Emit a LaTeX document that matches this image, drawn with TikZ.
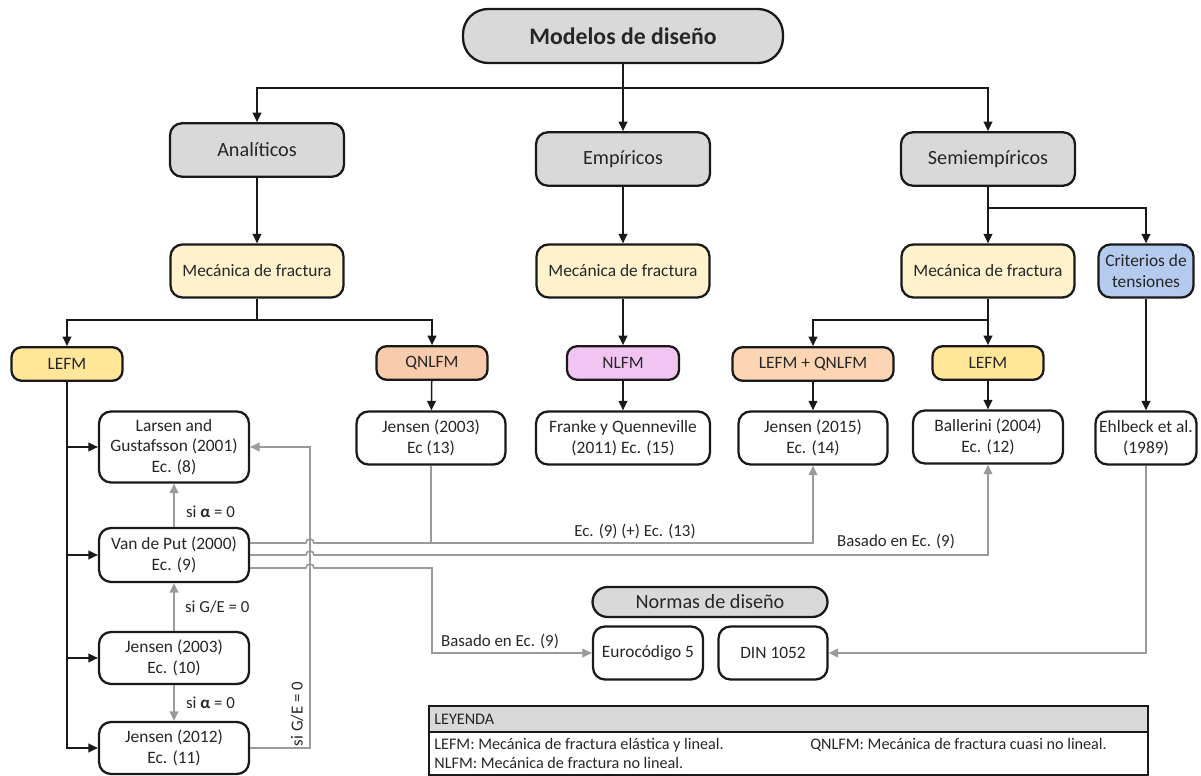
\documentclass[tikz,border=0pt]{standalone}
\usepackage{fontspec}
\setmainfont{Carlito}
\usetikzlibrary{arrows.meta}
\definecolor{boxgray}{HTML}{D9D9D9}
\definecolor{mecyellow}{HTML}{FFF2CC}
\definecolor{lefmyellow}{HTML}{FFE699}
\definecolor{qnlfmred}{HTML}{F8CBAD}
\definecolor{nlfmpink}{HTML}{F2C4F2}
\definecolor{mixorange}{HTML}{FCD5B4}
\definecolor{critblue}{HTML}{B4CBEF}
\definecolor{linkgray}{HTML}{9A9A9A}
\begin{document}
\begin{tikzpicture}[x=0.02cm,y=-0.02cm,
    box/.style={draw=black!90,line width=1.3pt,rounded corners=0.24cm,align=center,
      inner sep=0pt,text=black!85,font=\fontsize{9.9}{11.6}\selectfont},
    group/.style={box,fill=boxgray,minimum width=3.48cm,minimum height=1.07cm,
      font=\fontsize{11.5}{13}\selectfont},
    mec/.style={box,fill=mecyellow,minimum width=3.46cm,minimum height=1.06cm},
    tag/.style={box,rounded corners=0.2cm,minimum height=0.67cm},
    ref/.style={box,fill=white,minimum height=1.06cm},
    conn/.style={-{Triangle[length=5.4pt,width=5pt]},line width=0.85pt,black!90},
    bar/.style={line width=0.85pt,black!90},
    gconn/.style={-{Triangle[length=5.4pt,width=5pt]},line width=0.95pt,linkgray},
    gline/.style={line width=0.95pt,linkgray},
    glabel/.style={inner sep=1pt,text=black!85,font=\fontsize{9.6}{11}\selectfont},
    legtext/.style={anchor=west,inner sep=0pt,text=black!85,font=\fontsize{9.2}{11}\selectfont}]
  \useasboundingbox (0,0) rectangle (1201,776);

  % niveles
  \node[box,fill=boxgray,minimum width=6.4cm,minimum height=1.08cm,rounded corners=0.5cm,
    font=\bfseries\fontsize{13.5}{16}\selectfont] (modelos) at (623,36) {Modelos de diseño};
  \node[group] (anal) at (257,150) {Analíticos};
  \node[group] (emp) at (623,159) {Empíricos};
  \node[group] (semi) at (988,159) {Semiempíricos};
  \node[mec] (mecanal) at (257,271) {Mecánica de fractura};
  \node[mec] (mecemp) at (623,271) {Mecánica de fractura};
  \node[mec] (mecsemi) at (988,271) {Mecánica de fractura};
  \node[box,fill=critblue,minimum width=1.9cm,minimum height=1.06cm] (crit) at (1146,271) {Criterios de\\tensiones};
  \node[tag,fill=lefmyellow,minimum width=2.22cm] (lefmA) at (67,364) {LEFM};
  \node[tag,fill=qnlfmred,minimum width=2.22cm] (qnlfm) at (432,363) {QNLFM};
  \node[tag,fill=nlfmpink,minimum width=2.24cm] (nlfm) at (623,363) {NLFM};
  \node[tag,fill=mixorange,minimum width=3.22cm] (lefmqnlfm) at (813,364) {LEFM + QNLFM};
  \node[tag,fill=lefmyellow,minimum width=2.22cm] (lefmB) at (988,363) {LEFM};

  % modelos
  \node[ref,minimum width=3cm,minimum height=1.42cm] (larsen) at (174,447) {Larsen and\\Gustafsson (2001)\\Ec. (8)};
  \node[ref,minimum width=3cm,minimum height=1.08cm] (vandeput) at (174,555) {Van de Put (2000)\\Ec. (9)};
  \node[ref,minimum width=3cm,minimum height=1.04cm] (jensen03) at (174,658) {Jensen (2003)\\Ec. (10)};
  \node[ref,minimum width=3cm,minimum height=1.04cm] (jensen12) at (174,748) {Jensen (2012)\\Ec. (11)};
  \node[ref,minimum width=2.98cm] (jensen03q) at (431,438) {Jensen (2003)\\Ec (13)};
  \node[ref,minimum width=3.48cm] (franke) at (623,438) {Franke y Quenneville\\(2011) Ec. (15)};
  \node[ref,minimum width=2.98cm] (jensen15) at (813,438) {Jensen (2015)\\Ec. (14)};
  \node[ref,minimum width=3cm] (ballerini) at (988,437) {Ballerini (2004)\\Ec. (12)};
  \node[ref,minimum width=2.02cm] (ehlbeck) at (1146,438) {Ehlbeck et al.\\(1989)};

  % normas
  \node[box,fill=boxgray,minimum width=4.7cm,minimum height=0.6cm,rounded corners=0.3cm,
    font=\fontsize{11.5}{13}\selectfont] (normas) at (710,602) {Normas de diseño};
  \node[ref,minimum width=2.2cm] (euro) at (648,653) {Eurocódigo 5};
  \node[ref,minimum width=2.18cm] (din) at (773,653) {DIN 1052};

  % conectores negros
  \coordinate (topbus) at (623,88);
  \coordinate (semibus) at (988,208);
  \coordinate (analbus) at (257,320);
  \coordinate (semibus2) at (988,320);
  \draw[conn] (modelos) -- (emp);
  \draw[conn] (topbus) -| (anal);
  \draw[conn] (topbus) -| (semi);
  \draw[conn] (anal) -- (mecanal);
  \draw[conn] (emp) -- (mecemp);
  \draw[conn] (semi) -- (mecsemi);
  \draw[conn] (semibus) -| (crit);
  \draw[bar] (mecanal) -- (analbus);
  \draw[conn] (analbus) -| (lefmA);
  \draw[conn] (analbus) -| (qnlfm);
  \draw[conn] (mecemp) -- (nlfm);
  \draw[conn] (mecsemi) -- (lefmB);
  \draw[conn] (semibus2) -| (lefmqnlfm);
  \draw[conn] (qnlfm) -- (jensen03q);
  \draw[conn] (nlfm) -- (franke);
  \draw[conn] (lefmqnlfm) -- (jensen15);
  \draw[conn] (lefmB) -- (ballerini);
  \draw[conn] (crit) -- (ehlbeck);
  \draw[conn] (lefmA) |- (larsen);
  \draw[conn] (lefmA) |- (vandeput);
  \draw[conn] (lefmA) |- (jensen03);
  \draw[conn] (lefmA) |- (jensen12);

  % conectores grises
  \draw[gconn] (vandeput) -- (larsen);
  \draw[gconn] (jensen03) -- (vandeput);
  \draw[gconn] (jensen03) -- (jensen12);
  \node[glabel,anchor=west] (alfa1) at (184,512) {si \textbf{α} = 0};
  \node[glabel,anchor=west] (ge1) at (183,607) {si G/E = 0};
  \node[glabel,anchor=west] (alfa2) at (184,703) {si \textbf{α} = 0};
  \coordinate (gecol) at (310,748);
  \draw[gconn] (jensen12) -- (gecol) |- (larsen);
  \node[glabel,rotate=90] (ge2) at (297,714) {si G/E = 0};

  \coordinate (ec13) at (431,543);
  \draw[gline] (jensen03q) -- (ec13);
  \draw[gconn] ([yshift=0.24cm]vandeput.east) -- (306,543)
    arc[start angle=180,end angle=0,radius=0.08cm] -| (jensen15);
  \draw[gconn] (vandeput.east) -- (306,555)
    arc[start angle=180,end angle=0,radius=0.08cm] -| (ballerini);
  \draw[gconn] ([yshift=-0.26cm]vandeput.east) -- (306,568)
    arc[start angle=180,end angle=0,radius=0.08cm] -- (432,568) |- (euro);
  \draw[gconn] (ehlbeck) |- (din);
  \node[glabel] (lblec13) at (635,532) {Ec. (9) (+) Ec. (13)};
  \node[glabel] (lblball) at (896,542) {Basado en Ec. (9)};
  \node[glabel] (lbleuro) at (500,642) {Basado en Ec. (9)};

  % leyenda
  \draw[line width=1.3pt,draw=black!90,fill=boxgray] (429,706) rectangle (1148,732);
  \draw[line width=1.3pt,draw=black!90] (429,732) rectangle (1148,775);
  \node[legtext] (leyenda) at (434,719) {LEYENDA};
  \node[legtext] (leylefm) at (434,745) {LEFM: Mecánica de fractura elástica y lineal.};
  \node[legtext] (leyqnlfm) at (810,745) {QNLFM: Mecánica de fractura cuasi no lineal.};
  \node[legtext] (leynlfm) at (434,763) {NLFM: Mecánica de fractura no lineal.};
\end{tikzpicture}
\end{document}
